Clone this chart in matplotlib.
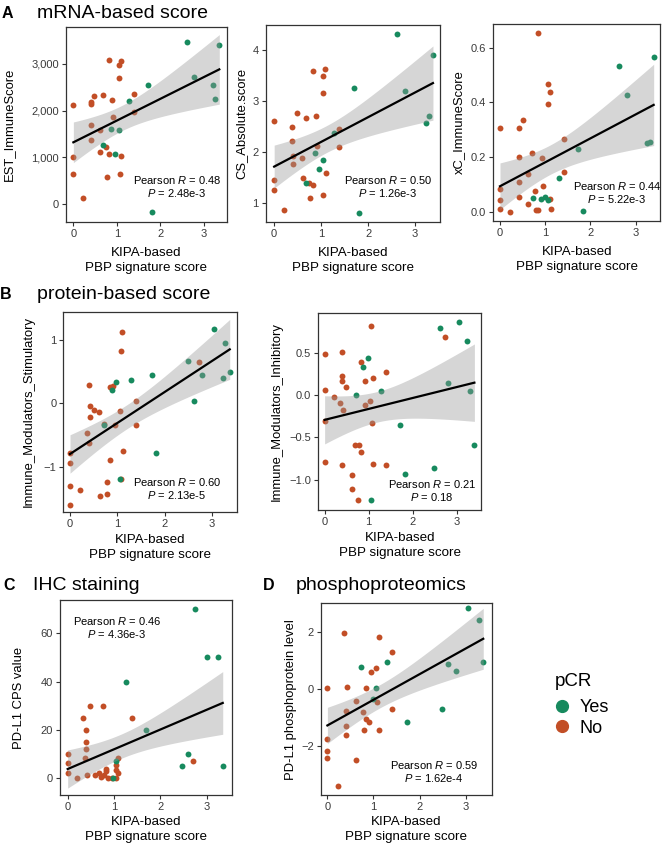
import numpy as np
import matplotlib
matplotlib.use("Agg")
import matplotlib.pyplot as plt
from matplotlib.lines import Line2D
from matplotlib.ticker import FuncFormatter

plt.rcParams['font.family'] = ['Liberation Sans', 'DejaVu Sans']
plt.rcParams['mathtext.fontset'] = 'custom'
plt.rcParams['mathtext.rm'] = 'Liberation Sans'
plt.rcParams['mathtext.it'] = 'Liberation Sans:italic'

GREEN = '#178a5e'
ORANGE = '#c24e26'

# ---------------- data ----------------
A1_x_no = [0, 0, 0, 0.21, 0.40, 0.40, 0.48, 0.40, 0.40, 0.62, 0.61, 0.69, 0.75, 0.78, 0.81, 0.81, 0.89, 0.92, 1.04, 1.05, 1.09, 1.10, 1.06, 1.39, 1.39]
A1_y_no = [2127, 1004, 639, 131, 2176, 2142, 2305, 1691, 1375, 1575, 1112, 2341, 1219, 567, 3092, 1069, 2234, 1863, 2700, 2985, 3071, 1017, 646, 2348, 1961]
A1_x_yes = [0.69, 0.87, 0.96, 1.04, 1.27, 1.71, 1.80, 2.60, 2.76, 3.21, 3.26, 3.35]
A1_y_yes = [1268, 1612, 1060, 1590, 2197, 2541, -185, 3479, 2729, 2550, 2250, 3407]

A2_x_no = [0, 0, 0, 0.21, 0.38, 0.38, 0.40, 0.40, 0.48, 0.60, 0.61, 0.67, 0.75, 0.77, 0.82, 0.82, 0.89, 0.92, 1.04, 1.05, 1.09, 1.05, 1.10, 1.39, 1.39]
A2_y_no = [2.62, 1.46, 1.27, 0.86, 2.49, 2.21, 1.93, 1.76, 2.76, 1.89, 1.49, 2.67, 1.40, 1.10, 1.36, 3.58, 2.71, 2.13, 3.50, 3.15, 3.63, 1.16, 1.60, 2.45, 2.10]
A2_x_yes = [0.68, 0.87, 0.96, 1.03, 1.27, 1.71, 1.81, 2.62, 2.78, 3.23, 3.29, 3.38]
A2_y_yes = [1.40, 1.98, 1.68, 1.84, 2.38, 3.25, 0.82, 4.31, 3.20, 2.58, 2.70, 3.91]

A3_x_no = [0, 0, 0, 0, 0.22, 0.41, 0.41, 0.42, 0.42, 0.51, 0.63, 0.63, 0.71, 0.78, 0.80, 0.85, 0.85, 0.93, 0.95, 1.06, 1.11, 1.07, 1.10, 1.13, 1.42, 1.42]
A3_y_no = [0.305, 0.083, 0.043, 0.009, 0.0, 0.307, 0.199, 0.107, 0.055, 0.335, 0.137, 0.028, 0.215, 0.077, 0.006, 0.006, 0.655, 0.195, 0.094, 0.467, 0.439, 0.393, 0.048, 0.009, 0.265, 0.146]
A3_x_yes = [0.72, 0.90, 0.99, 1.07, 1.30, 1.73, 1.83, 2.64, 2.80, 3.26, 3.31, 3.40]
A3_y_yes = [0.051, 0.046, 0.055, 0.041, 0.123, 0.229, 0.001, 0.533, 0.426, 0.250, 0.256, 0.565]

B1_x_no = [0, 0, 0, 0, 0.22, 0.37, 0.40, 0.41, 0.43, 0.43, 0.51, 0.62, 0.64, 0.71, 0.78, 0.79, 0.84, 0.85, 0.92, 0.95, 1.06, 1.07, 1.11, 1.08, 1.12, 1.40, 1.40, 2.74]
B1_y_no = [-0.79, -0.94, -1.30, -1.60, -1.37, -0.47, -0.62, 0.29, -0.04, -0.22, -0.10, -0.14, -1.47, -0.32, -1.24, -1.44, -0.90, 0.25, 0.28, -0.35, -0.12, 0.82, 1.12, -1.20, -0.76, 0.03, -0.35, 0.65]
B1_x_yes = [0.72, 0.89, 0.97, 1.05, 1.29, 1.73, 1.82, 2.49, 2.63, 2.79, 3.05, 3.24, 3.29, 3.38]
B1_y_yes = [-0.35, 0.21, 0.34, -1.20, 0.37, 0.45, -0.78, 0.67, 0.03, 0.44, 1.17, 0.40, 0.96, 0.50]

B2_x_no = [0, 0, 0, 0, 0.22, 0.35, 0.40, 0.40, 0.40, 0.41, 0.49, 0.40, 0.62, 0.62, 0.68, 0.78, 0.83, 0.76, 0.82, 0.92, 0.91, 1.06, 1.10, 1.04, 1.07, 1.10, 1.40, 1.40, 2.73]
B2_y_no = [0.48, 0.06, -0.31, -0.79, -0.02, -0.09, 0.51, 0.22, 0.16, -0.18, 0.10, -0.83, -0.94, -1.11, -0.59, -0.59, -0.67, -1.24, 0.39, 0.17, -0.12, 0.81, 0.20, -0.07, -0.33, -0.81, 0.27, -0.82, 0.68]
B2_x_yes = [0.71, 0.88, 0.98, 1.05, 1.29, 1.71, 1.82, 2.48, 2.62, 2.79, 3.06, 3.24, 3.31, 3.40]
B2_y_yes = [0.0, 0.33, 0.44, -1.24, 0.05, -0.35, -0.93, -0.86, 0.79, 0.14, 0.86, 0.64, 0.05, -0.59]

C_x_no = [0, 0, 0, 0.21, 0.48, 0.34, 0.40, 0.40, 0.40, 0.37, 0.41, 0.60, 0.68, 0.73, 0.78, 0.83, 0.83, 0.77, 0.88, 0.96, 1.04, 1.04, 1.04, 1.09, 1.09, 1.39, 2.70]
C_y_no = [10, 6, 2, 0, 30, 25, 20, 15, 12, 8, 1, 1, 2, 0.4, 1.2, 2.6, 3.5, 30, 0, 0, 0, 3.2, 5.1, 8, 1.9, 25, 7]
C_x_yes = [0.98, 1.05, 1.26, 1.69, 2.46, 2.59, 2.76, 3.02, 3.25, 3.35]
C_y_yes = [0, 7, 40, 20, 5, 10, 70, 50, 50, 5]

D_x_no = [0, 0, 0, 0, 0.22, 0.36, 0.42, 0.41, 0.41, 0.40, 0.63, 0.63, 0.77, 0.80, 0.84, 0.84, 0.91, 0.94, 1.06, 1.08, 1.11, 1.11, 1.41, 1.41]
D_y_no = [0.04, -1.76, -2.17, -2.44, -3.42, 1.96, 0.08, -0.77, -1.30, -1.62, -0.42, -2.50, -0.80, -1.44, 0.04, -1.07, -1.18, 0.59, 0.74, -0.46, 1.82, -1.43, 1.29, -0.70]
D_x_yes = [0.72, 0.98, 1.05, 1.29, 1.72, 2.48, 2.62, 2.78, 3.05, 3.28, 3.38]
D_y_yes = [0.76, -0.36, 0.02, 0.96, -1.18, -0.70, 0.88, 0.63, 2.86, 2.43, 0.93]

y_labels = ['EST_ImmuneScore', 'CS_Absolute.score', 'xC_ImmuneScore',
            'Immune_Modulators_Stimulatory', 'Immune_Modulators_Inhibitory',
            'PD-L1 CPS value', 'PD-L1 phosphoprotein level']
r_values = ['0.48', '0.50', '0.44', '0.60', '0.21', '0.46', '0.59']
p_values = ['2.48e-3', '1.26e-3', '5.22e-3', '2.13e-5', '0.18', '4.36e-3', '1.62e-4']
x_ticks = [0, 1, 2, 3]
y_ticks = [[0, 1000, 2000, 3000], [1, 2, 3, 4], [0.0, 0.2, 0.4, 0.6],
           [-1, 0, 1], [-1.0, -0.5, 0.0, 0.5], [0, 20, 40, 60], [-2, 0, 2]]
y_fmt = ['{:,.0f}', '{:.0f}', '{:.1f}', '{:.0f}', '{:.1f}', '{:.0f}', '{:.0f}']
panel_titles = [('A', 'mRNA-based score'), ('B', 'protein-based score'),
                ('C', 'IHC staining'), ('D', 'phosphoproteomics')]
x_label = 'KIPA-based\nPBP signature score'
legend_title = 'pCR'
legend_labels = ['Yes', 'No']

panels = [
    (A1_x_no, A1_y_no, A1_x_yes, A1_y_yes),
    (A2_x_no, A2_y_no, A2_x_yes, A2_y_yes),
    (A3_x_no, A3_y_no, A3_x_yes, A3_y_yes),
    (B1_x_no, B1_y_no, B1_x_yes, B1_y_yes),
    (B2_x_no, B2_y_no, B2_x_yes, B2_y_yes),
    (C_x_no, C_y_no, C_x_yes, C_y_yes),
    (D_x_no, D_y_no, D_x_yes, D_y_yes),
]

# ---------------- layout (pixels) ----------------
W, H = 662, 849
boxes = [(65.7, 26.7, 226.7, 221.7), (265.7, 25.0, 440.0, 221.7), (493.3, 24.3, 660.0, 220.7),
         (63.3, 311.7, 237.3, 512.0), (318.3, 313.3, 481.0, 510.0),
         (60.0, 600.0, 232.0, 795.0), (320.7, 603.3, 492.0, 795.0)]
xlims = [(-0.176, 3.52), (-0.18, 3.53), (-0.148, 3.54), (-0.142, 3.54), (-0.144, 3.55), (-0.166, 3.55), (-0.145, 3.57)]
ylims = [(-384, 3800), (0.64, 4.49), (-0.033, 0.686), (-1.717, 1.447), (-1.356, 0.963), (-7.2, 73.9), (-3.73, 3.01)]
ylabel_right = [15, 247, 465, 35, 283, 25, 297]
xlabel_pad = [6, 6, 6, 3.5, 3.5, 3, 3]
pearson_pos = [(177, 180), (388, 180), (617, 186), (177, 482), (432, 484), (117, 621), (434, 765)]

fig = plt.figure(figsize=(W / 100, H / 100), dpi=100)


def fx(px):
    return px / W


def fy(py):
    return 1 - py / H


for i, (xn, yn, xy, yy) in enumerate(panels):
    l, t, r, b = boxes[i]
    ax = fig.add_axes([fx(l), fy(b), (r - l) / W, (b - t) / H])
    xn, yn, xy, yy = map(np.asarray, (xn, yn, xy, yy))
    ax.scatter(xn, yn, s=18, color=ORANGE, linewidths=0, zorder=2)
    ax.scatter(xy, yy, s=18, color=GREEN, linewidths=0, zorder=2)
    # linear fit with 95% confidence band
    x = np.concatenate([xn, xy])
    y = np.concatenate([yn, yy])
    n = len(x)
    slope, icpt = np.polyfit(x, y, 1)
    xs = np.linspace(x.min(), x.max(), 100)
    yhat = icpt + slope * xs
    resid = y - (icpt + slope * x)
    s = np.sqrt(np.sum(resid ** 2) / (n - 2))
    sxx = np.sum((x - x.mean()) ** 2)
    se = s * np.sqrt(1.0 / n + (xs - x.mean()) ** 2 / sxx)
    tq = 2.03
    ax.fill_between(xs, yhat - tq * se, yhat + tq * se, color='#999999', alpha=0.4, linewidth=0, zorder=3)
    ax.plot(xs, yhat, color='black', lw=1.6, zorder=4)

    ax.set_xlim(*xlims[i])
    ax.set_ylim(*ylims[i])
    ax.set_xticks(x_ticks)
    ax.set_yticks(y_ticks[i])
    fmt = y_fmt[i]
    ax.yaxis.set_major_formatter(FuncFormatter(lambda v, p, fmt=fmt: fmt.format(v).replace('-', '\u2212')))
    ax.tick_params(labelsize=8, colors='#333333', length=3, width=0.8, pad=2, labelcolor='#3a3a3a')
    for sp in ax.spines.values():
        sp.set_color('#333333')
        sp.set_linewidth(0.9)
    ax.set_xlabel(x_label, fontsize=9.6, linespacing=1.3, labelpad=xlabel_pad[i])
    ax.set_ylabel(y_labels[i], fontsize=9.4)
    ax.yaxis.set_label_coords((ylabel_right[i] - l) / (r - l), 0.5)
    px, py = pearson_pos[i]
    fig.text(fx(px), fy(py), 'Pearson $R$ = ' + r_values[i], ha='center', va='center', fontsize=8)
    fig.text(fx(px), fy(py + 13), '$P$ = ' + p_values[i], ha='center', va='center', fontsize=8)

# panel titles
title_pos = [((2, 18), (37, 18)), ((0, 299), (37, 299)), ((3, 590), (33, 590)), ((263, 590), (296, 590))]
for (letter, title), ((lx, ly), (tx, ty)) in zip(panel_titles, title_pos):
    fig.text(fx(lx), fy(ly), letter, fontsize=11.5, fontweight='bold', va='baseline', ha='left')
    fig.text(fx(tx), fy(ty), title, fontsize=14, va='baseline', ha='left')

# legend
fig.text(fx(555), fy(681), legend_title, fontsize=13.5, ha='left', va='center')
handles = [Line2D([], [], marker='o', ls='', color=GREEN, markersize=8.5),
           Line2D([], [], marker='o', ls='', color=ORANGE, markersize=8.5)]
fig.legend(handles, legend_labels, loc='upper left',
           bbox_to_anchor=(fx(553), fy(699)), frameon=False, fontsize=13,
           handletextpad=0.45, labelspacing=0.2, handlelength=1.0,
           borderaxespad=0, borderpad=0)

fig.savefig('out.png', dpi=100)
